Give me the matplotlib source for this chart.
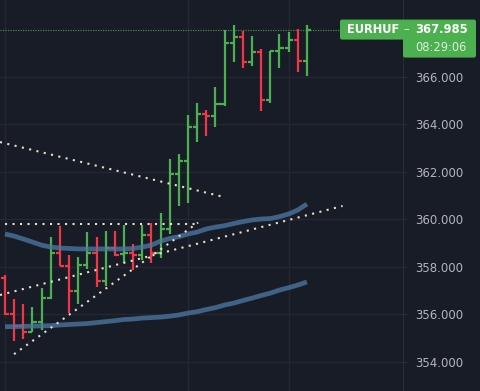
import matplotlib.pyplot as plt
from matplotlib.patches import FancyBboxPatch
import numpy as np

# EURHUF bars (open, high, low, close)
opens = [357.51, 356.00, 355.52, 355.24, 355.68, 356.69, 358.59, 358.03, 356.99, 358.07,
         358.59, 357.40, 358.77, 358.52, 358.56, 358.49, 359.32, 358.56, 359.59, 361.90,
         362.45, 363.89, 364.44, 364.35, 364.86, 367.41, 367.68, 366.62, 367.03, 365.02,
         367.08, 367.20, 367.55, 366.67]
highs = [357.67, 356.64, 356.42, 356.29, 357.09, 359.26, 359.71, 358.49, 358.42, 359.47,
         359.26, 359.50, 359.50, 359.76, 358.96, 359.76, 359.86, 360.25, 362.52, 362.73,
         364.40, 364.91, 364.60, 365.57, 367.97, 368.18, 367.92, 367.71, 367.15, 367.09,
         367.80, 367.87, 368.01, 368.18]
lows = [355.97, 354.88, 354.94, 355.24, 355.33, 356.65, 358.03, 356.04, 356.43, 357.90,
        357.16, 357.20, 358.45, 358.14, 357.86, 358.28, 358.14, 358.35, 359.38, 360.56,
        360.69, 363.26, 363.50, 363.89, 364.75, 366.61, 366.35, 366.45, 364.56, 364.88,
        366.35, 367.03, 366.21, 366.03]
closes = [356.00, 355.52, 355.24, 355.68, 356.69, 358.59, 358.03, 356.99, 358.07, 358.59,
          357.40, 358.77, 358.49, 358.56, 358.49, 359.32, 358.56, 359.59, 361.90, 362.45,
          363.89, 364.44, 364.35, 364.86, 367.41, 367.68, 366.62, 367.03, 365.02, 367.08,
          367.20, 367.55, 366.67, 367.985]

# moving averages
ma_fast = [359.38, 359.29, 359.17, 359.04, 358.91, 358.83, 358.79, 358.77, 358.75, 358.75,
           358.75, 358.75, 358.75, 358.75, 358.77, 358.83, 358.91, 359.08, 359.19, 359.27,
           359.38, 359.46, 359.59, 359.67, 359.73, 359.82, 359.90, 359.97, 360.01, 360.03,
           360.11, 360.22, 360.39, 360.64]
ma_slow = [355.48, 355.48, 355.49, 355.50, 355.51, 355.52, 355.55, 355.57, 355.59, 355.61,
           355.65, 355.69, 355.73, 355.78, 355.80, 355.84, 355.86, 355.88, 355.92, 355.97,
           356.05, 356.11, 356.20, 356.28, 356.39, 356.47, 356.58, 356.68, 356.79, 356.89,
           357.02, 357.12, 357.23, 357.36]

# drawn trend lines: ((x0, y0), (x1, y1)) in bar index / price
trend_lines = [((0.0, 359.79), (21.3, 359.79)),
               ((0.98, 354.32), (21.1, 359.86)),
               ((-0.55, 356.81), (36.9, 360.56)),
               ((-0.55, 363.25), (24.0, 360.93))]

price_ticks = [354, 356, 358, 360, 362, 364, 366]
time_grid = [0, 20, 31]
symbol = 'EURHUF'
last_price = 367.985
countdown = '08:29:06'

bg = '#181c27'
up, down = '#4caf50', '#f23645'

fig = plt.figure(figsize=(4.8, 3.91), dpi=100, facecolor=bg)
ax = fig.add_axes([0, 0, 403 / 480, 1], facecolor=bg)
ymin, ymax = 352.77, 369.23
ax.set_xlim(-0.55, 43.5)
ax.set_ylim(ymin, ymax)

for x in time_grid:
    ax.axvline(x, color='#232734', lw=1, zorder=0)
for p in price_ticks:
    ax.axhline(p, color='#232734', lw=1, zorder=0)

x = np.arange(len(opens))
cols = [up if c >= o else down for o, c in zip(opens, closes)]
ax.vlines(x, lows, highs, colors=cols, lw=1.6, zorder=2)
ax.hlines(opens, x - 0.45, x, colors=cols, lw=1.6, zorder=2)
ax.hlines(closes, x, x + 0.45, colors=cols, lw=1.6, zorder=2)

ax.plot(x, ma_fast, color='#4d7aa6', lw=3.4, alpha=0.75, solid_capstyle='butt', zorder=3)
ax.plot(x, ma_slow, color='#4d7aa6', lw=3.4, alpha=0.75, solid_capstyle='butt', zorder=3)

for (x0, y0), (x1, y1) in trend_lines:
    ax.plot([x0, x1], [y0, y1], color='#e8dfc6', lw=1.5,
            linestyle=(0, (1, 2.6)), zorder=4)

ax.axhline(last_price, color='#3f8a45', lw=0.9, linestyle=(0, (1, 1)), zorder=1)

ax.yaxis.tick_right()
ax.set_yticks(price_ticks)
ax.set_yticklabels(['%.3f' % p for p in price_ticks])
ax.tick_params(axis='y', length=3, width=0.8, color='#2a2e39', pad=6,
               labelsize=8.5, labelcolor='#b2b5be')
ax.set_xticks([])
for s in ['top', 'bottom', 'left']:
    ax.spines[s].set_visible(False)
ax.spines['right'].set_color('#2a2e39')

# last price label
W, H = 480, 391
yc = (last_price - ymin) / (ymax - ymin)
ypx = yc * H
fig.add_artist(FancyBboxPatch(((340) / W, (ypx - 10) / H), 136 / W, 20 / H,
                              boxstyle='round,pad=0,rounding_size=0.005',
                              transform=fig.transFigure, fc=up, ec='none'))
fig.add_artist(FancyBboxPatch((403 / W, (ypx - 28) / H), 73 / W, 22 / H,
                              boxstyle='round,pad=0,rounding_size=0.005',
                              transform=fig.transFigure, fc=up, ec='none'))
fig.text(347 / W, yc, symbol, color='white', fontsize=8.3, fontweight='bold',
         va='center', ha='left')
fig.text(406 / W, yc, '–', color='#d8f0d8', fontsize=8.3, va='center', ha='center')
fig.text(415 / W, yc, '%.3f' % last_price, color='white', fontsize=8.3,
         fontweight='bold', va='center', ha='left')
fig.text(415 / W, (ypx - 18) / H, countdown, color='#dcefdc', fontsize=8.3,
         va='center', ha='left')

fig.savefig('out.png', dpi=100, facecolor=bg)
